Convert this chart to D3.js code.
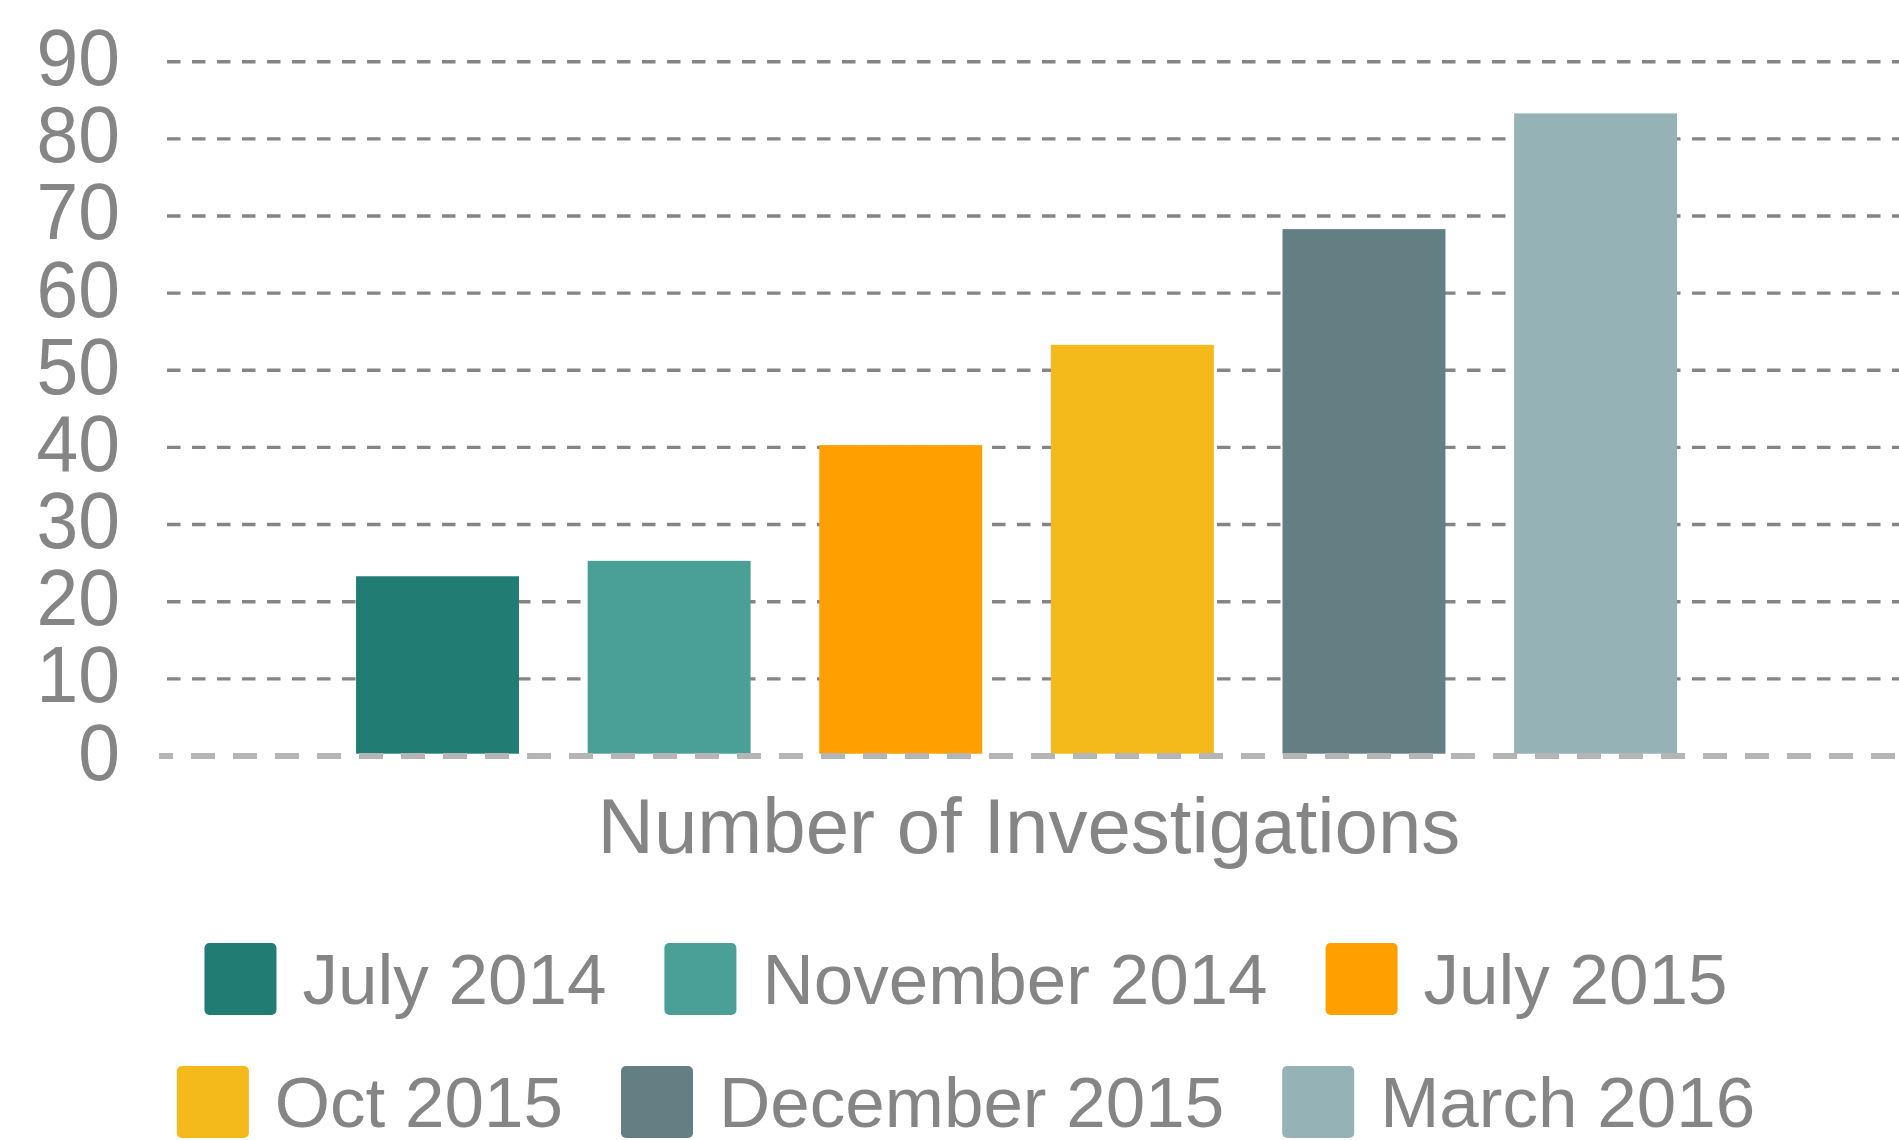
<!DOCTYPE html>
<html>
<head>
<meta charset="utf-8">
<script src="https://cdn.jsdelivr.net/npm/d3@7"></script>
<style>
  html, body { margin: 0; padding: 0; background: #ffffff; }
  svg { display: block; font-family: "Liberation Sans", Arial, sans-serif; }
</style>
</head>
<body>
<svg id="chart" width="1899" height="1140"></svg>
<script>
const categories = ["July 2014", "November 2014", "July 2015", "Oct 2015", "December 2015", "March 2016"];
const values = [23, 25, 40, 53, 68, 83];
const colors = ["#217d74", "#4aa097", "#ffa000", "#f4b91a", "#637f84", "#95b2b7"];
const yTicks = [0, 10, 20, 30, 40, 50, 60, 70, 80, 90];
const axisTitle = "Number of Investigations";
const legendRows = [[0, 1, 2], [3, 4, 5]];

const svg = d3.select("#chart");
const textColor = "#858585";

const y = d3.scaleLinear().domain([0, 90]).range([756, 61.7]);
const x = d3.scaleBand().domain(categories)
  .range([321.7, 1711.4]).paddingInner(0.2965).paddingOuter(0.14825);

// gridlines (non-zero)
svg.append("g").selectAll("line")
  .data(yTicks.filter(d => d !== 0))
  .join("line")
  .attr("x1", 167).attr("x2", 1899)
  .attr("y1", d => y(d)).attr("y2", d => y(d))
  .attr("stroke", "#858585").attr("stroke-width", 3.4)
  .attr("stroke-dasharray", "13.5 11.5");

// bars
svg.append("g").attr("transform", "translate(0,-2.3)").selectAll("rect")
  .data(values)
  .join("rect")
  .attr("x", (d, i) => x(categories[i]))
  .attr("width", x.bandwidth())
  .attr("y", d => y(d))
  .attr("height", d => y(0) - y(d))
  .attr("fill", (d, i) => colors[i]);

// zero line
svg.append("line")
  .attr("x1", 159).attr("x2", 1899)
  .attr("y1", y(0)).attr("y2", y(0))
  .attr("stroke", "#b5b5b5").attr("stroke-width", 5.8)
  .attr("stroke-dasharray", "24 18")
  .attr("stroke-dashoffset", 10);

// y labels (slightly tall glyphs, as in the reference)
svg.append("g").selectAll("text")
  .data(yTicks)
  .join("text")
  .attr("transform", d => `translate(120,${y(d) + 23.5}) scale(1,1.065)`)
  .attr("text-anchor", "end")
  .attr("font-size", 75)
  .attr("fill", textColor)
  .text(d => d);

// axis title
svg.append("text")
  .attr("x", 1029).attr("y", 853)
  .attr("text-anchor", "middle")
  .attr("font-size", 78)
  .attr("fill", textColor)
  .text(axisTitle);

// legend
const swatch = 72, swGap = 26, itemGap = 58, legendCenter = 966;
const rowTop = [943, 1066];
legendRows.forEach((row, r) => {
  const g = svg.append("g");
  const items = g.selectAll("g").data(row).join("g");
  items.append("rect")
    .attr("width", swatch).attr("height", swatch)
    .attr("rx", 5).attr("ry", 5)
    .attr("y", rowTop[r])
    .attr("fill", i => colors[i]);
  items.append("text")
    .attr("x", swatch + swGap)
    .attr("y", rowTop[r] + 61)
    .attr("font-size", 71)
    .attr("fill", textColor)
    .text(i => categories[i]);
  const widths = [];
  items.select("text").each(function () { widths.push(this.getComputedTextLength()); });
  const total = widths.reduce((a, w) => a + swatch + swGap + w, 0) + itemGap * (row.length - 1);
  let cx = legendCenter - total / 2;
  items.each(function (d, k) {
    d3.select(this).attr("transform", `translate(${cx},0)`);
    cx += swatch + swGap + widths[k] + itemGap;
  });
});
</script>
</body>
</html>
